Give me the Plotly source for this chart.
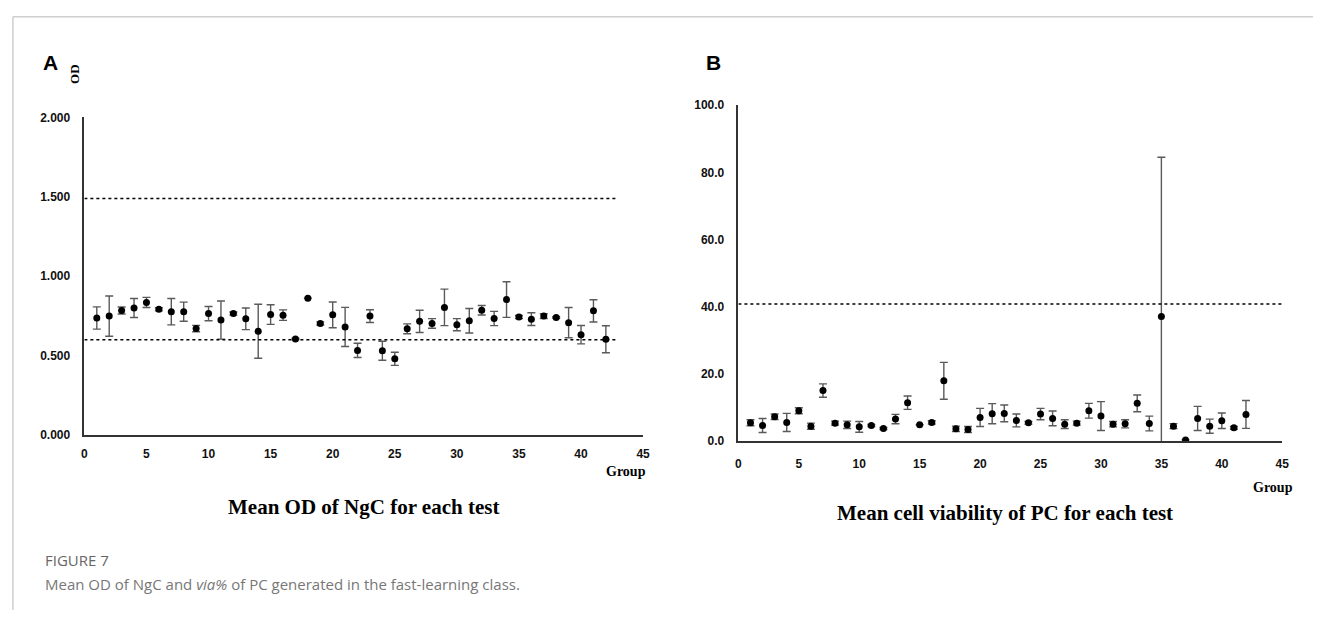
import plotly.graph_objects as go

W, H = 1320, 617

groups = list(range(1, 43))

od_mean = [0.737, 0.749, 0.784, 0.800, 0.835, 0.792, 0.777, 0.777, 0.671, 0.765,
           0.724, 0.765, 0.732, 0.654, 0.759, 0.755, 0.605, 0.862, 0.703, 0.757,
           0.681, 0.533, 0.749, 0.531, 0.480, 0.669, 0.716, 0.703, 0.804, 0.695,
           0.720, 0.786, 0.734, 0.853, 0.743, 0.730, 0.749, 0.740, 0.708, 0.632,
           0.782, 0.603]
od_err = [0.070, 0.127, 0.022, 0.060, 0.032, 0.010, 0.083, 0.060, 0.020, 0.045,
          0.120, 0.010, 0.068, 0.170, 0.062, 0.033, 0.005, 0.0, 0.010, 0.081,
          0.123, 0.045, 0.040, 0.060, 0.041, 0.031, 0.070, 0.030, 0.115, 0.038,
          0.077, 0.030, 0.045, 0.112, 0.010, 0.040, 0.015, 0.005, 0.095, 0.058,
          0.070, 0.085]

via_mean = [5.4, 4.6, 7.2, 5.5, 9.0, 4.4, 15.0, 5.3, 4.8, 4.2,
            4.6, 3.7, 6.5, 11.4, 4.8, 5.5, 17.9, 3.6, 3.4, 7.0,
            8.1, 8.2, 6.1, 5.4, 8.0, 6.7, 5.0, 5.3, 9.0, 7.4,
            5.0, 5.1, 11.2, 5.2, 37.1, 4.4, 0.3, 6.7, 4.4, 6.0,
            3.9, 7.9]
via_err = [0.9, 2.1, 0.8, 2.7, 0.9, 0.9, 2.0, 0.6, 1.1, 1.6,
           0.3, 0.3, 1.4, 2.0, 0.0, 0.5, 5.5, 0.8, 0.9, 2.7,
           3.0, 2.5, 1.9, 0.4, 1.7, 2.2, 1.3, 0.6, 2.2, 4.3,
           0.8, 1.2, 2.5, 2.2, 47.4, 0.75, 0.0, 3.6, 2.1, 2.3,
           0.4, 4.15]

od_ref_lines = [1.49, 0.60]
via_ref_lines = [40.8]
od_ticks = [0, 0.5, 1.0, 1.5, 2.0]
via_ticks = [0, 20, 40, 60, 80, 100]
x_ticks = list(range(0, 46, 5))


def px(x):
    return x / W


def py(y):
    return 1 - y / H


fig = go.Figure()

err_style = dict(type="data", thickness=1.4, width=4, color="#5a5a5a")
mk = dict(color="black", size=7)

fig.add_trace(go.Scatter(x=groups, y=od_mean, mode="markers", marker=mk,
                         error_y=dict(array=od_err, **err_style),
                         xaxis="x", yaxis="y", showlegend=False))
fig.add_trace(go.Scatter(x=groups, y=via_mean, mode="markers", marker=mk,
                         error_y=dict(array=via_err, **err_style),
                         xaxis="x2", yaxis="y2", showlegend=False))

for v in od_ref_lines:
    fig.add_trace(go.Scatter(x=[0, 43], y=[v, v], mode="lines",
                             line=dict(color="black", width=1.5, dash="dot"),
                             xaxis="x", yaxis="y", showlegend=False, hoverinfo="skip"))
for v in via_ref_lines:
    fig.add_trace(go.Scatter(x=[0, 45], y=[v, v], mode="lines",
                             line=dict(color="black", width=1.5, dash="dot"),
                             xaxis="x2", yaxis="y2", showlegend=False, hoverinfo="skip"))

tickfont = dict(family="Liberation Sans, Arial, sans-serif", size=12, color="#111", weight="bold")
axcommon = dict(showgrid=False, zeroline=False, showline=True, linecolor="#333",
                linewidth=1.5, ticks="", tickfont=tickfont, fixedrange=True)

fig.update_layout(
    width=W, height=H,
    margin=dict(l=0, r=0, t=0, b=0),
    paper_bgcolor="white", plot_bgcolor="white",
    xaxis=dict(domain=[px(82), px(645)], range=[0, 45], tickvals=x_ticks,
               anchor="y", ticklabelstandoff=7, **axcommon),
    yaxis=dict(domain=[py(438), py(113)], range=[0, 2], tickvals=od_ticks,
               tickformat=".3f", anchor="x", ticklabelstandoff=10, **axcommon),
    xaxis2=dict(domain=[px(741), px(1289)], range=[0, 45], tickvals=x_ticks,
                anchor="y2", ticklabelstandoff=11, **axcommon),
    yaxis2=dict(domain=[py(444), py(100.5)], range=[0, 100], tickvals=via_ticks,
                tickformat=".1f", anchor="x2", ticklabelstandoff=10, **axcommon),
)

serif = "Liberation Serif, Times New Roman, serif"
ann = [
    dict(text="<b>A</b>", x=px(38), y=py(57), xanchor="left", yanchor="middle",
         font=dict(family="Liberation Sans, Arial", size=21, color="black")),
    dict(text="<b>B</b>", x=px(706), y=py(57), xanchor="left", yanchor="middle",
         font=dict(family="Liberation Sans, Arial", size=21, color="black")),
    dict(text="<b>OD</b>", x=px(72), y=py(68), xanchor="center", yanchor="middle",
         textangle=-90, font=dict(family=serif, size=13, color="black")),
    dict(text="<b>Group</b>", x=px(650), y=py(475), xanchor="right", yanchor="middle",
         font=dict(family=serif, size=14, color="black")),
    dict(text="<b>Group</b>", x=px(1302), y=py(492), xanchor="right", yanchor="middle",
         font=dict(family=serif, size=14, color="black")),
    dict(text="<b>Mean OD of NgC for each test</b>", x=px(363), y=py(512),
         xanchor="center", yanchor="middle", font=dict(family=serif, size=21, color="black")),
    dict(text="<b>Mean cell viability of PC for each test</b>", x=px(1010), y=py(518),
         xanchor="center", yanchor="middle", font=dict(family=serif, size=21, color="black")),
    dict(text="FIGURE 7", x=px(40), y=py(566), xanchor="left", yanchor="middle",
         font=dict(family="Open Sans, sans-serif", size=15, color="#666")),
    dict(text="Mean OD of NgC and <i>via%</i> of PC generated in the fast-learning class.",
         x=px(40), y=py(590), xanchor="left", yanchor="middle",
         font=dict(family="Open Sans, sans-serif", size=15, color="#777")),
]
for a in ann:
    a.update(xref="paper", yref="paper", showarrow=False)
fig.update_layout(annotations=ann)

fig.update_layout(shapes=[
    dict(type="line", xref="paper", yref="paper", x0=px(10), x1=1, y0=py(10), y1=py(10),
         line=dict(color="#cfcfcf", width=1.5)),
    dict(type="line", xref="paper", yref="paper", x0=px(10), x1=px(10), y0=py(10), y1=0,
         line=dict(color="#cfcfcf", width=1.5)),
])

fig.write_html("out.html", config={"displayModeBar": False})
